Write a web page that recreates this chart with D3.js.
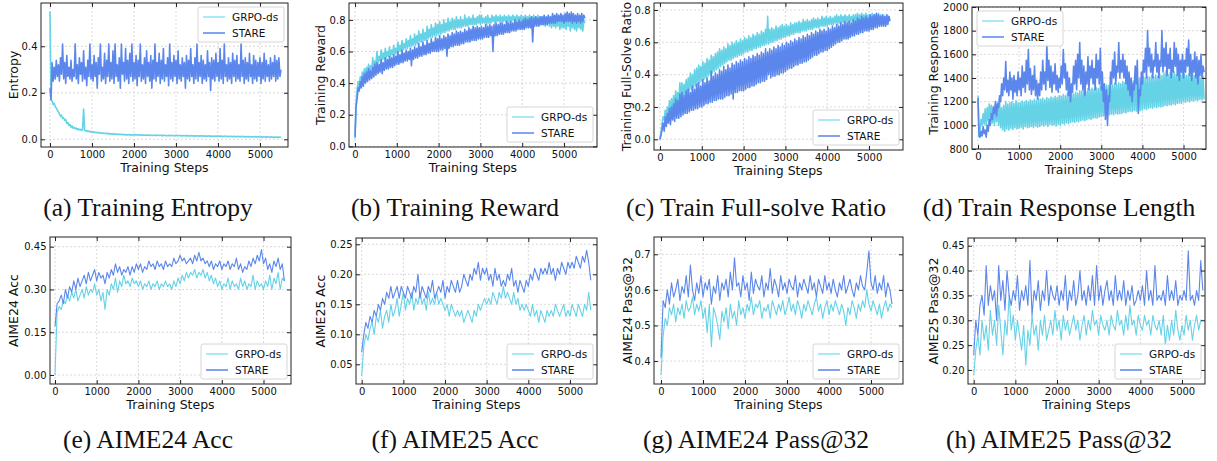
<!DOCTYPE html>
<html>
<head>
<meta charset="utf-8">
<script src="https://cdn.jsdelivr.net/npm/d3@7"></script>
<style>
  body { margin: 0; background: #fff; }
  text { font-family: "DejaVu Sans", sans-serif; }
  text.caption { font-family: "Liberation Serif", serif; }
</style>
</head>
<body>
<div id="canvas"></div>
<script>
"use strict"

/* training steps: the training curves are logged every 25 steps, the eval curves every 50 */
const trainSteps = d3.range(0, 5501, 25);
const evalSteps = d3.range(0, 5501, 50);
const seriesNames = ["GRPO-ds", "STARE"];
const xTicks = [0, 1000, 2000, 3000, 4000, 5000];

/* (a) entropy */
const entropyGrpo = [
  0.55,0.17,0.165,0.15,0.155,0.14,0.135,0.125,0.118,0.11,0.1,0.104,0.09,0.093,0.082,0.085,0.068,0.072,0.06,0.064,
  0.052,0.058,0.048,0.052,0.045,0.048,0.042,0.046,0.04,0.043,0.038,0.041,0.13,0.039,0.036,0.038,0.033,0.036,0.032,0.034,
  0.03,0.033,0.029,0.031,0.028,0.03,0.027,0.029,0.026,0.028,0.025,0.027,0.025,0.026,0.024,0.026,0.023,0.025,0.022,0.024,
  0.022,0.024,0.021,0.023,0.021,0.023,0.02,0.022,0.02,0.022,0.02,0.021,0.019,0.021,0.019,0.021,0.019,0.02,0.018,0.02,
  0.019,0.021,0.018,0.02,0.018,0.02,0.018,0.019,0.017,0.019,0.017,0.019,0.017,0.019,0.017,0.018,0.016,0.018,0.016,0.018,
  0.017,0.018,0.016,0.018,0.016,0.018,0.016,0.017,0.016,0.018,0.015,0.017,0.015,0.017,0.016,0.017,0.015,0.017,0.015,0.016,
  0.016,0.017,0.015,0.017,0.015,0.016,0.014,0.016,0.015,0.016,0.014,0.016,0.014,0.015,0.014,0.016,0.014,0.015,0.013,0.015,
  0.014,0.015,0.013,0.015,0.014,0.015,0.013,0.015,0.013,0.014,0.013,0.015,0.013,0.014,0.012,0.014,0.013,0.014,0.012,0.014,
  0.013,0.014,0.012,0.014,0.012,0.013,0.012,0.014,0.012,0.013,0.011,0.013,0.012,0.013,0.011,0.013,0.011,0.012,0.011,0.013,
  0.011,0.012,0.011,0.013,0.011,0.012,0.01,0.012,0.011,0.012,0.01,0.012,0.01,0.011,0.01,0.012,0.01,0.011,0.01,0.011,
  0.01,0.011,0.009,0.011,0.01,0.011,0.009,0.011,0.009,0.01,0.009,0.011,0.009,0.01,0.008,0.01,0.009,0.01,0.008,0.01,
  0.009];
const entropyStare = [
  0.22,0.17,0.33,0.25,0.31,0.26,0.34,0.27,0.32,0.25,0.35,0.28,0.41,0.26,0.33,0.24,0.36,0.27,0.31,0.26,
  0.34,0.25,0.3,0.27,0.41,0.26,0.32,0.24,0.35,0.28,0.33,0.25,0.38,0.26,0.31,0.23,0.34,0.27,0.41,0.26,
  0.32,0.25,0.36,0.27,0.33,0.22,0.35,0.28,0.41,0.25,0.31,0.26,0.37,0.24,0.34,0.27,0.41,0.25,0.33,0.26,
  0.38,0.24,0.41,0.27,0.32,0.25,0.35,0.22,0.41,0.28,0.33,0.25,0.39,0.26,0.34,0.24,0.37,0.27,0.41,0.25,
  0.33,0.26,0.36,0.23,0.34,0.27,0.41,0.25,0.32,0.26,0.35,0.24,0.38,0.27,0.33,0.25,0.36,0.22,0.34,0.26,
  0.41,0.25,0.33,0.27,0.37,0.24,0.34,0.26,0.39,0.25,0.32,0.27,0.35,0.23,0.41,0.26,0.33,0.25,0.36,0.27,
  0.34,0.24,0.38,0.26,0.32,0.25,0.35,0.27,0.33,0.22,0.36,0.26,0.34,0.25,0.39,0.27,0.32,0.24,0.35,0.26,
  0.41,0.25,0.33,0.27,0.36,0.24,0.34,0.26,0.32,0.25,0.38,0.27,0.33,0.21,0.35,0.26,0.34,0.25,0.37,0.27,
  0.33,0.25,0.39,0.26,0.34,0.24,0.41,0.27,0.32,0.25,0.35,0.26,0.33,0.24,0.37,0.27,0.34,0.25,0.36,0.26,
  0.32,0.25,0.41,0.27,0.34,0.24,0.35,0.26,0.33,0.25,0.37,0.27,0.32,0.24,0.36,0.26,0.34,0.25,0.33,0.27,
  0.35,0.24,0.33,0.26,0.37,0.25,0.34,0.27,0.32,0.25,0.35,0.26,0.33,0.27,0.36,0.25,0.34,0.26,0.35,0.27,
  0.3];

/* (b) training reward */
const rewardGrpo = [
  0.05,0.28,0.36,0.41,0.38,0.44,0.42,0.47,0.44,0.49,0.45,0.5,0.46,0.52,0.47,0.51,0.49,0.56,0.5,0.54,
  0.52,0.6,0.53,0.57,0.54,0.61,0.55,0.59,0.55,0.62,0.56,0.6,0.57,0.63,0.57,0.61,0.58,0.64,0.58,0.62,
  0.59,0.66,0.6,0.64,0.6,0.67,0.61,0.65,0.62,0.68,0.62,0.67,0.63,0.7,0.63,0.68,0.64,0.71,0.64,0.7,
  0.65,0.73,0.66,0.71,0.66,0.74,0.67,0.72,0.67,0.76,0.68,0.74,0.69,0.77,0.69,0.75,0.7,0.78,0.7,0.77,
  0.71,0.79,0.71,0.77,0.72,0.8,0.72,0.78,0.73,0.81,0.73,0.79,0.74,0.81,0.74,0.8,0.74,0.82,0.75,0.8,
  0.75,0.82,0.75,0.8,0.76,0.83,0.76,0.81,0.76,0.82,0.77,0.81,0.77,0.83,0.77,0.81,0.77,0.82,0.78,0.83,
  0.77,0.83,0.78,0.81,0.78,0.82,0.77,0.83,0.78,0.81,0.78,0.83,0.79,0.82,0.78,0.83,0.79,0.82,0.79,0.83,
  0.78,0.82,0.79,0.83,0.79,0.82,0.78,0.83,0.79,0.82,0.79,0.83,0.8,0.82,0.79,0.83,0.8,0.82,0.79,0.83,
  0.79,0.82,0.8,0.83,0.79,0.82,0.8,0.83,0.79,0.82,0.78,0.83,0.79,0.82,0.78,0.83,0.78,0.82,0.77,0.82,
  0.77,0.82,0.76,0.81,0.77,0.82,0.76,0.81,0.75,0.82,0.76,0.8,0.75,0.81,0.76,0.82,0.74,0.8,0.75,0.81,
  0.75,0.82,0.74,0.8,0.76,0.81,0.73,0.82,0.75,0.8,0.74,0.81,0.73,0.82,0.75,0.8,0.74,0.81,0.73,0.8,
  0.78];
const rewardStare = [
  0.06,0.25,0.3,0.37,0.35,0.41,0.37,0.44,0.38,0.46,0.4,0.47,0.41,0.49,0.42,0.48,0.43,0.5,0.44,0.52,
  0.45,0.53,0.46,0.52,0.47,0.55,0.46,0.53,0.48,0.56,0.49,0.55,0.49,0.57,0.5,0.56,0.5,0.58,0.51,0.57,
  0.52,0.6,0.52,0.58,0.53,0.61,0.53,0.59,0.54,0.61,0.54,0.6,0.55,0.62,0.51,0.61,0.55,0.63,0.56,0.62,
  0.56,0.65,0.57,0.63,0.57,0.66,0.58,0.64,0.58,0.67,0.59,0.65,0.59,0.68,0.6,0.66,0.6,0.69,0.6,0.68,
  0.6,0.7,0.61,0.68,0.61,0.7,0.62,0.69,0.57,0.71,0.62,0.7,0.63,0.72,0.63,0.71,0.64,0.73,0.64,0.72,
  0.64,0.73,0.65,0.72,0.65,0.74,0.66,0.73,0.66,0.75,0.66,0.74,0.67,0.76,0.67,0.75,0.67,0.76,0.68,0.75,
  0.68,0.76,0.68,0.75,0.69,0.77,0.69,0.76,0.69,0.77,0.7,0.76,0.6,0.77,0.7,0.78,0.7,0.77,0.71,0.78,
  0.71,0.78,0.71,0.77,0.72,0.79,0.72,0.78,0.72,0.79,0.73,0.78,0.73,0.8,0.73,0.79,0.74,0.8,0.74,0.79,
  0.74,0.8,0.74,0.81,0.75,0.8,0.75,0.81,0.75,0.82,0.66,0.81,0.76,0.82,0.76,0.81,0.76,0.82,0.77,0.82,
  0.77,0.83,0.77,0.82,0.77,0.83,0.78,0.82,0.78,0.84,0.78,0.83,0.78,0.84,0.79,0.83,0.79,0.84,0.79,0.83,
  0.78,0.84,0.79,0.85,0.79,0.84,0.79,0.85,0.78,0.84,0.79,0.83,0.78,0.84,0.79,0.83,0.78,0.84,0.79,0.83,
  0.81];

/* (c) full-solve ratio */
const solveGrpo = [
  0.0,0.05,0.1,0.14,0.12,0.18,0.13,0.2,0.15,0.24,0.16,0.25,0.18,0.27,0.19,0.3,0.2,0.29,0.22,0.35,
  0.24,0.35,0.26,0.34,0.27,0.37,0.28,0.38,0.3,0.41,0.31,0.4,0.32,0.43,0.33,0.44,0.34,0.46,0.35,0.45,
  0.36,0.48,0.37,0.47,0.38,0.5,0.39,0.49,0.4,0.52,0.41,0.51,0.42,0.53,0.43,0.54,0.44,0.56,0.45,0.55,
  0.46,0.57,0.47,0.56,0.48,0.59,0.49,0.58,0.49,0.6,0.5,0.59,0.51,0.61,0.51,0.6,0.52,0.62,0.52,0.61,
  0.53,0.63,0.54,0.62,0.54,0.64,0.55,0.63,0.55,0.65,0.56,0.64,0.56,0.66,0.57,0.65,0.57,0.67,0.58,0.66,
  0.58,0.68,0.59,0.76,0.59,0.68,0.6,0.69,0.6,0.68,0.61,0.7,0.61,0.69,0.62,0.7,0.62,0.71,0.63,0.7,
  0.63,0.71,0.64,0.7,0.64,0.72,0.65,0.71,0.65,0.72,0.66,0.72,0.66,0.73,0.66,0.72,0.67,0.74,0.67,0.73,
  0.67,0.74,0.68,0.73,0.68,0.74,0.68,0.75,0.69,0.74,0.69,0.75,0.69,0.74,0.7,0.76,0.7,0.75,0.7,0.76,
  0.7,0.75,0.71,0.76,0.71,0.75,0.71,0.76,0.72,0.77,0.71,0.76,0.72,0.77,0.72,0.76,0.72,0.77,0.73,0.76,
  0.72,0.77,0.73,0.76,0.73,0.77,0.72,0.77,0.73,0.78,0.73,0.77,0.72,0.78,0.73,0.77,0.73,0.78,0.72,0.77,
  0.73,0.77,0.72,0.78,0.73,0.77,0.72,0.77,0.73,0.78,0.72,0.77,0.71,0.77,0.72,0.76,0.71,0.77,0.72,0.76,
  0.74];
const solveStare = [
  0.0,0.03,0.06,0.1,0.05,0.14,0.08,0.16,0.1,0.19,0.09,0.2,0.12,0.22,0.11,0.25,0.13,0.24,0.13,0.28,
  0.14,0.29,0.15,0.27,0.16,0.3,0.16,0.31,0.17,0.29,0.18,0.33,0.18,0.31,0.19,0.34,0.19,0.35,0.2,0.33,
  0.2,0.37,0.21,0.35,0.22,0.38,0.22,0.36,0.23,0.42,0.23,0.39,0.24,0.41,0.24,0.4,0.25,0.43,0.25,0.42,
  0.25,0.45,0.26,0.43,0.27,0.46,0.27,0.44,0.28,0.47,0.25,0.46,0.29,0.48,0.29,0.47,0.3,0.49,0.3,0.48,
  0.3,0.5,0.31,0.49,0.32,0.51,0.32,0.5,0.33,0.52,0.33,0.51,0.34,0.53,0.35,0.52,0.35,0.54,0.36,0.53,
  0.36,0.56,0.37,0.54,0.4,0.56,0.38,0.55,0.39,0.57,0.39,0.56,0.4,0.58,0.4,0.57,0.41,0.59,0.41,0.58,
  0.42,0.6,0.43,0.59,0.44,0.61,0.44,0.6,0.45,0.62,0.46,0.61,0.46,0.63,0.47,0.62,0.47,0.64,0.48,0.63,
  0.48,0.65,0.49,0.64,0.5,0.66,0.51,0.65,0.52,0.67,0.52,0.66,0.53,0.68,0.54,0.67,0.54,0.68,0.55,0.67,
  0.55,0.69,0.56,0.68,0.57,0.7,0.58,0.69,0.59,0.71,0.6,0.7,0.6,0.72,0.61,0.71,0.62,0.73,0.62,0.72,
  0.62,0.73,0.63,0.72,0.64,0.74,0.64,0.73,0.65,0.75,0.65,0.74,0.66,0.76,0.66,0.75,0.67,0.76,0.67,0.75,
  0.67,0.77,0.68,0.76,0.68,0.77,0.69,0.78,0.69,0.77,0.7,0.76,0.7,0.77,0.7,0.76,0.7,0.77,0.71,0.76,
  0.73];

/* (d) response length */
const lengthGrpo = [
  1250,900,960,1050,1000,1100,1010,1140,1000,1150,1040,1180,1060,1170,1020,1160,1000,1180,1030,1190,
  1000,1200,980,1150,960,1170,950,1200,970,1180,960,1190,975,1200,965,1185,980,1210,970,1190,
  975,1190,985,1205,970,1195,990,1210,980,1200,985,1215,990,1205,980,1220,995,1210,985,1225,
  990,1220,1000,1230,995,1215,1005,1235,990,1225,1010,1240,1000,1230,1005,1245,995,1235,1010,1250,
  1000,1245,1015,1260,1010,1250,1020,1270,1015,1255,1025,1275,1030,1265,1025,1280,1035,1270,1030,1290,
  1040,1290,1045,1300,1040,1285,1050,1310,1055,1300,1050,1315,1060,1305,1065,1320,1060,1310,1070,1330,
  1075,1330,1080,1320,1085,1340,1080,1335,1090,1350,1095,1340,1090,1355,1100,1345,1095,1360,1100,1350,
  1100,1370,1110,1360,1105,1380,1115,1370,1120,1385,1115,1375,1125,1390,1120,1385,1130,1400,1125,1395,
  1130,1410,1140,1400,1135,1415,1145,1405,1150,1420,1145,1410,1155,1425,1150,1415,1160,1430,1155,1420,
  1160,1440,1170,1460,1165,1430,1175,1445,1170,1435,1180,1450,1175,1430,1185,1440,1190,1425,1185,1445,
  1200,1430,1195,1420,1205,1435,1200,1415,1210,1430,1205,1420,1215,1410,1210,1425,1220,1400,1215,1415,
  1220];
const lengthStare = [
  1230,920,900,950,910,990,930,960,900,1000,950,1050,1000,1100,1050,1150,1100,1200,1080,1180,
  1150,1250,1200,1350,1250,1400,1300,1540,1280,1380,1250,1450,1300,1400,1220,1420,1280,1380,1250,1450,
  1300,1400,1250,1500,1320,1450,1280,1550,1350,1640,1300,1480,1260,1420,1300,1500,1250,1380,1220,1350,
  1250,1450,1300,1550,1350,1450,1300,1680,1380,1550,1320,1500,1280,1450,1350,1520,1300,1420,1280,1400,
  1320,1500,1350,1640,1400,1520,1300,1450,1250,1400,1200,1350,1280,1500,1350,1550,1300,1600,1400,1700,
  1350,1550,1300,1500,1250,1450,1350,1580,1300,1500,1400,1550,1350,1480,1300,1600,1400,1550,1350,1650,
  1300,1450,1200,1350,1050,1300,1000,1250,1200,1450,1350,1550,1400,1620,1350,1500,1450,1700,1400,1550,
  1450,1600,1400,1550,1350,1500,1300,1450,1250,1400,1200,1350,1300,1500,1350,1550,1100,1300,1250,1450,
  1350,1550,1450,1650,1400,1800,1500,1650,1450,1600,1400,1550,1500,1700,1450,1600,1400,1550,1500,1800,
  1450,1650,1500,1700,1420,1600,1480,1650,1400,1550,1450,1700,1500,1650,1420,1600,1380,1550,1450,1600,
  1400,1550,1450,1650,1500,1720,1420,1600,1380,1550,1450,1620,1400,1580,1350,1550,1420,1600,1400,1500,
  1450];

/* (e) AIME24 accuracy */
const aime24AccGrpo = [
  0.0,0.22,0.24,0.23,0.26,0.25,0.28,0.26,0.29,0.27,
  0.3,0.26,0.28,0.3,0.27,0.31,0.28,0.3,0.29,0.32,
  0.28,0.3,0.26,0.29,0.23,0.3,0.28,0.32,0.3,0.34,
  0.29,0.33,0.31,0.35,0.32,0.33,0.31,0.34,0.32,0.33,
  0.31,0.33,0.3,0.32,0.31,0.33,0.3,0.32,0.31,0.33,
  0.3,0.32,0.31,0.33,0.31,0.32,0.3,0.33,0.31,0.34,
  0.32,0.35,0.33,0.36,0.34,0.36,0.35,0.37,0.34,0.36,
  0.35,0.37,0.34,0.36,0.33,0.35,0.32,0.34,0.31,0.33,
  0.3,0.32,0.31,0.34,0.3,0.33,0.31,0.32,0.3,0.34,
  0.31,0.33,0.3,0.32,0.31,0.35,0.3,0.33,0.31,0.32,
  0.3,0.33,0.31,0.35,0.3,0.34,0.32,0.36,0.3,0.34,
  0.33];
const aime24AccStare = [
  0.17,0.25,0.26,0.28,0.25,0.3,0.27,0.31,0.29,0.33,
  0.3,0.34,0.31,0.33,0.35,0.32,0.36,0.33,0.35,0.37,
  0.33,0.36,0.34,0.35,0.32,0.36,0.34,0.37,0.35,0.39,
  0.36,0.38,0.35,0.37,0.36,0.38,0.35,0.38,0.36,0.39,
  0.37,0.39,0.36,0.38,0.37,0.4,0.38,0.39,0.37,0.4,
  0.38,0.39,0.37,0.4,0.38,0.39,0.38,0.41,0.39,0.4,
  0.42,0.4,0.41,0.39,0.4,0.41,0.39,0.42,0.4,0.43,
  0.4,0.41,0.39,0.4,0.38,0.4,0.37,0.39,0.38,0.4,
  0.37,0.39,0.38,0.4,0.37,0.39,0.38,0.41,0.37,0.39,
  0.36,0.38,0.37,0.4,0.38,0.41,0.39,0.42,0.4,0.44,
  0.39,0.41,0.37,0.39,0.36,0.4,0.38,0.41,0.37,0.39,
  0.33];

/* (f) AIME25 accuracy */
const aime25AccGrpo = [
  0.03,0.08,0.1,0.09,0.11,0.12,0.1,0.13,0.12,0.14,
  0.11,0.13,0.14,0.12,0.15,0.13,0.14,0.16,0.13,0.15,
  0.17,0.14,0.16,0.15,0.17,0.14,0.16,0.15,0.17,0.15,
  0.16,0.14,0.17,0.15,0.16,0.15,0.17,0.15,0.16,0.15,
  0.14,0.15,0.13,0.15,0.14,0.13,0.14,0.13,0.14,0.12,
  0.13,0.14,0.13,0.12,0.14,0.13,0.15,0.14,0.15,0.16,
  0.15,0.16,0.15,0.17,0.16,0.15,0.17,0.16,0.18,0.16,
  0.17,0.16,0.15,0.17,0.15,0.16,0.14,0.15,0.14,0.15,
  0.14,0.13,0.15,0.13,0.14,0.12,0.14,0.13,0.12,0.14,
  0.13,0.14,0.13,0.15,0.14,0.13,0.14,0.15,0.13,0.14,
  0.13,0.15,0.14,0.13,0.15,0.14,0.13,0.15,0.14,0.17,
  0.14];
const aime25AccStare = [
  0.07,0.1,0.12,0.11,0.13,0.12,0.14,0.13,0.15,0.14,
  0.16,0.15,0.17,0.16,0.18,0.16,0.17,0.18,0.16,0.18,
  0.17,0.16,0.18,0.17,0.16,0.18,0.17,0.2,0.16,0.18,
  0.17,0.16,0.18,0.17,0.19,0.16,0.17,0.18,0.17,0.19,
  0.16,0.18,0.17,0.19,0.18,0.17,0.19,0.17,0.18,0.2,
  0.19,0.18,0.2,0.19,0.21,0.2,0.22,0.19,0.21,0.2,
  0.21,0.19,0.2,0.18,0.21,0.19,0.2,0.18,0.19,0.18,
  0.2,0.19,0.21,0.18,0.19,0.17,0.19,0.18,0.17,0.19,
  0.18,0.2,0.19,0.21,0.2,0.19,0.21,0.2,0.21,0.2,
  0.22,0.2,0.21,0.19,0.21,0.2,0.22,0.21,0.2,0.22,
  0.21,0.22,0.21,0.23,0.22,0.21,0.23,0.22,0.24,0.22,
  0.19];

/* (g) AIME24 pass@32 */
const aime24PassGrpo = [
  0.36,0.47,0.52,0.5,0.55,0.53,0.56,0.51,0.55,0.53,
  0.56,0.52,0.57,0.54,0.55,0.58,0.53,0.56,0.54,0.57,
  0.52,0.55,0.48,0.56,0.44,0.55,0.53,0.5,0.46,0.54,
  0.51,0.55,0.49,0.56,0.52,0.54,0.5,0.57,0.53,0.55,
  0.52,0.56,0.54,0.58,0.53,0.56,0.55,0.57,0.52,0.55,
  0.54,0.56,0.52,0.57,0.55,0.53,0.56,0.54,0.57,0.53,
  0.55,0.58,0.54,0.56,0.53,0.57,0.55,0.52,0.56,0.54,
  0.57,0.55,0.53,0.56,0.58,0.54,0.56,0.52,0.55,0.57,
  0.53,0.56,0.54,0.57,0.55,0.53,0.56,0.54,0.5,0.55,
  0.53,0.57,0.55,0.52,0.56,0.54,0.57,0.55,0.6,0.56,
  0.54,0.57,0.55,0.53,0.56,0.52,0.55,0.57,0.54,0.56,
  0.55];
const aime24PassStare = [
  0.41,0.57,0.55,0.6,0.56,0.62,0.58,0.6,0.63,0.57,
  0.61,0.59,0.64,0.58,0.67,0.6,0.57,0.62,0.59,0.64,
  0.58,0.62,0.6,0.63,0.56,0.61,0.59,0.64,0.57,0.62,
  0.6,0.63,0.58,0.65,0.6,0.69,0.61,0.62,0.58,0.64,
  0.6,0.62,0.57,0.65,0.59,0.63,0.61,0.6,0.64,0.58,
  0.62,0.6,0.66,0.59,0.63,0.61,0.58,0.64,0.6,0.62,
  0.59,0.63,0.61,0.6,0.64,0.58,0.62,0.6,0.63,0.61,
  0.59,0.64,0.6,0.62,0.58,0.63,0.61,0.59,0.64,0.6,
  0.62,0.59,0.63,0.6,0.58,0.62,0.6,0.64,0.59,0.61,
  0.63,0.6,0.58,0.62,0.6,0.64,0.61,0.6,0.65,0.71,
  0.62,0.6,0.64,0.59,0.62,0.6,0.64,0.58,0.62,0.6,
  0.56];

/* (h) AIME25 pass@32 */
const aime25PassGrpo = [
  0.19,0.24,0.27,0.23,0.3,0.26,0.29,0.24,0.32,0.27,
  0.3,0.25,0.33,0.28,0.23,0.3,0.27,0.35,0.28,0.31,
  0.26,0.3,0.27,0.24,0.29,0.21,0.28,0.25,0.31,0.27,
  0.29,0.24,0.3,0.27,0.31,0.26,0.28,0.3,0.27,0.32,
  0.28,0.3,0.26,0.31,0.28,0.3,0.27,0.29,0.31,0.28,
  0.3,0.26,0.29,0.31,0.27,0.3,0.28,0.32,0.29,0.3,
  0.27,0.31,0.29,0.28,0.3,0.27,0.31,0.29,0.28,0.32,
  0.29,0.3,0.27,0.31,0.28,0.33,0.29,0.3,0.27,0.31,
  0.29,0.28,0.31,0.29,0.3,0.27,0.31,0.29,0.28,0.3,
  0.27,0.31,0.25,0.29,0.26,0.3,0.27,0.32,0.28,0.26,
  0.29,0.27,0.31,0.28,0.3,0.26,0.29,0.31,0.28,0.3,
  0.3];
const aime25PassStare = [
  0.23,0.3,0.27,0.33,0.35,0.31,0.41,0.33,0.37,0.34,
  0.36,0.3,0.41,0.34,0.38,0.32,0.4,0.35,0.33,0.36,
  0.34,0.39,0.32,0.36,0.34,0.37,0.33,0.42,0.31,0.36,
  0.34,0.38,0.32,0.36,0.34,0.4,0.33,0.37,0.35,0.34,
  0.37,0.33,0.36,0.34,0.39,0.32,0.36,0.34,0.38,0.33,
  0.35,0.4,0.34,0.36,0.33,0.37,0.34,0.39,0.33,0.41,
  0.34,0.37,0.33,0.36,0.38,0.34,0.36,0.33,0.39,0.34,
  0.36,0.34,0.38,0.33,0.36,0.34,0.37,0.33,0.34,0.36,
  0.34,0.37,0.33,0.4,0.34,0.36,0.33,0.41,0.34,0.35,
  0.34,0.36,0.33,0.39,0.34,0.36,0.34,0.38,0.33,0.35,
  0.34,0.36,0.34,0.44,0.34,0.35,0.33,0.36,0.34,0.42,
  0.36];

/* layout of the eight small plots (pixels) */
const panels = [
  { steps: trainSteps, grpo: entropyGrpo, stare: entropyStare, ylabel: "Entropy", caption: "(a) Training Entropy",
    box: [41, 3, 288, 147], xDom: [-214, 5667], yDom: [-0.033, 0.586],
    yTicks: [0, 0.2, 0.4], fmt: ".1f", legend: "tr", labelX: 13, width: 1.6 },
  { steps: trainSteps, grpo: rewardGrpo, stare: rewardStare, ylabel: "Training Reward", caption: "(b) Training Reward",
    box: [349, 3, 597, 147], xDom: [-144, 5789], yDom: [-0.004, 0.907],
    yTicks: [0, 0.2, 0.4, 0.6, 0.8], fmt: ".1f", legend: "br", labelX: 320, width: 1.6 },
  { steps: trainSteps, grpo: solveGrpo, stare: solveStare, ylabel: "Training Full-Solve Ratio", caption: "(c) Train Full-solve Ratio",
    box: [654, 3, 903, 150], xDom: [-144, 5813], yDom: [-0.066, 0.843],
    yTicks: [0, 0.2, 0.4, 0.6, 0.8], fmt: ".1f", legend: "br", labelX: 626, width: 1.6 },
  { steps: trainSteps, grpo: lengthGrpo, stare: lengthStare, ylabel: "Training Response", caption: "(d) Train Response Length",
    box: [972, 7, 1206, 149], xDom: [-146, 5547], yDom: [800, 2000],
    yTicks: [800, 1000, 1200, 1400, 1600, 1800, 2000], fmt: "d", legend: "tl", labelX: 933, width: 1.6 },
  { steps: evalSteps, grpo: aime24AccGrpo, stare: aime24AccStare, ylabel: "AIME24 Acc", caption: "(e) AIME24 Acc",
    box: [50, 237, 291, 384], xDom: [-120, 5659], yDom: [-0.0316, 0.484],
    yTicks: [0, 0.15, 0.3, 0.45], fmt: ".2f", legend: "br", labelX: 13, width: 1.1 },
  { steps: evalSteps, grpo: aime25AccGrpo, stare: aime25AccStare, ylabel: "AIME25 Acc", caption: "(f) AIME25 Acc",
    box: [356, 238, 597, 384], xDom: [-137, 5649], yDom: [0.0172, 0.2605],
    yTicks: [0.05, 0.1, 0.15, 0.2, 0.25], fmt: ".2f", legend: "br", labelX: 320, width: 1.1 },
  { steps: evalSteps, grpo: aime24PassGrpo, stare: aime24PassStare, ylabel: "AIME24 Pass@32", caption: "(g) AIME24 Pass@32",
    box: [654, 237, 903, 384], xDom: [-167, 5762], yDom: [0.3355, 0.7486],
    yTicks: [0.4, 0.5, 0.6, 0.7], fmt: ".1f", legend: "br", labelX: 627, width: 1.1 },
  { steps: evalSteps, grpo: aime25PassGrpo, stare: aime25PassStare, ylabel: "AIME25 Pass@32", caption: "(h) AIME25 Pass@32",
    box: [968, 238, 1205, 384], xDom: [-137, 5552], yDom: [0.1718, 0.4655],
    yTicks: [0.2, 0.25, 0.3, 0.35, 0.4, 0.45], fmt: ".2f", legend: "br", labelX: 933, width: 1.1 }
];
const captionCenters = [148, 455, 756, 1059];

const grpoColor = "#66d2e6";
const stareColor = "#5b87ec";

let drawing = d3.select("#canvas")
  .append("svg")
  .attr("width", 1217)
  .attr("height", 461);

panels.forEach(function (p, k) {
  let [x0, y0, x1, y1] = p.box;
  let x = d3.scaleLinear().domain(p.xDom).range([x0, x1]);
  let y = d3.scaleLinear().domain(p.yDom).range([y1, y0]);
  let g = drawing.append("g");

  // grid
  g.selectAll(".gx").data(xTicks).join("line")
    .attr("x1", d => x(d)).attr("x2", d => x(d))
    .attr("y1", y0).attr("y2", y1)
    .attr("stroke", "#cfcfcf").attr("stroke-width", 0.8).attr("stroke-dasharray", "2,2");
  g.selectAll(".gy").data(p.yTicks).join("line")
    .attr("x1", x0).attr("x2", x1)
    .attr("y1", d => y(d)).attr("y2", d => y(d))
    .attr("stroke", "#cfcfcf").attr("stroke-width", 0.8).attr("stroke-dasharray", "2,2");

  // lines
  g.append("clipPath").attr("id", "clip" + k)
    .append("rect").attr("x", x0).attr("y", y0).attr("width", x1 - x0).attr("height", y1 - y0);
  let line = d3.line().x((d, i) => x(p.steps[i])).y(d => y(d));
  g.append("path").datum(p.grpo).attr("d", line)
    .attr("fill", "none").attr("stroke", grpoColor).attr("stroke-width", p.width)
    .attr("stroke-linejoin", "round")
    .attr("clip-path", "url(#clip" + k + ")");
  g.append("path").datum(p.stare).attr("d", line)
    .attr("fill", "none").attr("stroke", stareColor).attr("stroke-width", p.width)
    .attr("stroke-linejoin", "round")
    .attr("clip-path", "url(#clip" + k + ")");

  // axes, ticks pointing inwards on all four sides
  let bottom = g.append("g").attr("transform", `translate(0,${y1})`)
    .call(d3.axisBottom(x).tickValues(xTicks).tickSize(-4).tickPadding(4).tickFormat(d3.format("d")));
  g.append("g").attr("transform", `translate(0,${y0})`)
    .call(d3.axisTop(x).tickValues(xTicks).tickSize(-4).tickFormat(""));
  let left = g.append("g").attr("transform", `translate(${x0},0)`)
    .call(d3.axisLeft(y).tickValues(p.yTicks).tickSize(-4).tickPadding(3.5).tickFormat(d3.format(p.fmt)));
  g.append("g").attr("transform", `translate(${x1},0)`)
    .call(d3.axisRight(y).tickValues(p.yTicks).tickSize(-4).tickFormat(""));
  g.selectAll(".domain").remove();
  g.selectAll(".tick line").attr("stroke", "#222");
  bottom.selectAll("text").attr("font-size", 10).attr("fill", "#111");
  left.selectAll("text").attr("font-size", 10).attr("fill", "#111");

  g.append("rect").attr("x", x0).attr("y", y0).attr("width", x1 - x0).attr("height", y1 - y0)
    .attr("fill", "none").attr("stroke", "#222").attr("stroke-width", 1);

  // labels
  g.append("text").attr("x", (x0 + x1) / 2).attr("y", y1 + 25)
    .attr("text-anchor", "middle").attr("font-size", 12.5).attr("fill", "#111")
    .text("Training Steps");
  g.append("text")
    .attr("transform", `translate(${p.labelX},${(y0 + y1) / 2}) rotate(-90)`)
    .attr("text-anchor", "middle").attr("dominant-baseline", "central")
    .attr("font-size", 12.5).attr("fill", "#111")
    .text(p.ylabel);

  // legend
  let lw = 86, lh = 35;
  let lx = p.legend === "tl" ? x0 + 5 : x1 - lw - 4;
  let ly = p.legend === "br" ? y1 - lh - 5 : y0 + 4;
  let leg = g.append("g").attr("transform", `translate(${lx},${ly})`);
  leg.append("rect").attr("width", lw).attr("height", lh).attr("rx", 2)
    .attr("fill", "white").attr("fill-opacity", 0.85).attr("stroke", "#d6d6d6");
  [grpoColor, stareColor].forEach(function (c, i) {
    leg.append("line").attr("x1", 5).attr("x2", 27)
      .attr("y1", 10 + i * 16).attr("y2", 10 + i * 16)
      .attr("stroke", i === 0 ? "#86e0f2" : "#4a7cee").attr("stroke-width", 1.4);
    leg.append("text").attr("x", 34).attr("y", 10 + i * 16)
      .attr("dominant-baseline", "central").attr("font-size", 10.5).attr("fill", "#111")
      .text(seriesNames[i]);
  });

  // caption
  drawing.append("text").attr("class", "caption")
    .attr("x", captionCenters[k % 4]).attr("y", k < 4 ? 216 : 448)
    .attr("text-anchor", "middle")
    .attr("font-size", 25.5).attr("fill", "#111")
    .text(p.caption);
});
</script>
</body>
</html>
